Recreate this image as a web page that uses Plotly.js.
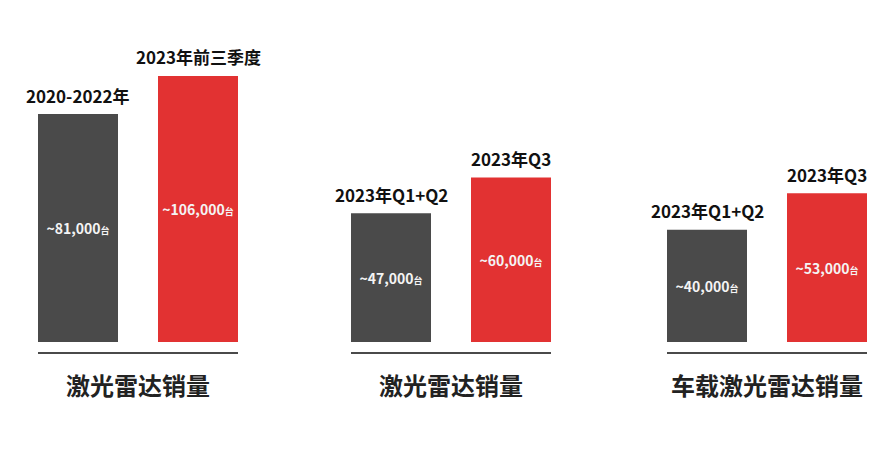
<!DOCTYPE html>
<html><head><meta charset="utf-8">
<script src="https://cdn.plot.ly/plotly-3.0.1.min.js"></script>
<style>body{margin:0;background:#fff}#c{width:896px;height:450px}</style>
</head><body><div id="c"></div>
<script>
// Data
const groupTitles = ['激光雷达销量', '激光雷达销量', '车载激光雷达销量'];
const g1Labels = ['2020-2022年', '2023年前三季度'];
const g1Values = [81000, 106000];
const g2Labels = ['2023年Q1+Q2', '2023年Q3'];
const g2Values = [47000, 60000];
const g3Labels = ['2023年Q1+Q2', '2023年Q3'];
const g3Values = [40000, 53000];
const unit = '台';

// Presentation
const colors = ['#4a4a4a', '#e23232'];
const font = '"Noto Sans CJK SC", "Noto Sans", sans-serif';
const groups = [
  {labels: g1Labels, values: g1Values, dom: [38/896, 238/896], ytype: 'log', range: [4.2085, 5.1357]},
  {labels: g2Labels, values: g2Values, dom: [351/896, 551/896], ytype: 'linear', range: [0, 110219]},
  {labels: g3Labels, values: g3Values, dom: [667/896, 867/896], ytype: 'linear', range: [0, 107627]}
];
const fmt = v => '~' + v.toLocaleString('en-US') + '<span style="font-size:9px">' + unit + '</span>';

const traces = [];
const annotations = [];
const layout = {
  width: 896, height: 450,
  margin: {l: 0, r: 0, t: 0, b: 0},
  paper_bgcolor: '#fff', plot_bgcolor: 'rgba(0,0,0,0)',
  showlegend: false, bargap: 1/3,
  font: {family: font},
  hovermode: false
};
groups.forEach((g, i) => {
  const n = i === 0 ? '' : String(i + 1);
  const xa = 'x' + n, ya = 'y' + n;
  traces.push({
    type: 'bar', x: g.labels, y: g.values,
    xaxis: xa, yaxis: ya,
    marker: {color: colors},
    text: g.values.map(fmt),
    textposition: 'inside', insidetextanchor: 'middle', textangle: 0,
    textfont: {family: font, size: 14, color: '#f4f4f4', weight: 'bold'},
    cliponaxis: false
  });
  layout['xaxis' + n] = {
    domain: g.dom, anchor: 'free', position: 97/450, type: 'category', range: [-1/3, 4/3],
    showline: true, linecolor: '#4a4a4a', linewidth: 2,
    showticklabels: false, ticks: '', showgrid: false, zeroline: false, fixedrange: true
  };
  layout['yaxis' + n] = {
    domain: [108/450, 410/450], anchor: xa, type: g.ytype, range: g.range,
    visible: false, showgrid: false, zeroline: false, fixedrange: true
  };
  g.labels.forEach((lab, j) => {
    annotations.push({
      xref: xa, yref: ya, x: lab, y: g.ytype === 'log' ? Math.log10(g.values[j]) : g.values[j],
      text: lab, showarrow: false, yanchor: 'middle', yshift: 19,
      font: {family: font, size: 17, color: '#111', weight: 'bold'}
    });
  });
  annotations.push({
    xref: xa + ' domain', yref: 'paper', x: 0.5, y: 1 - 384/450,
    xanchor: 'center', yanchor: 'middle',
    text: groupTitles[i], showarrow: false,
    font: {family: font, size: 24, color: '#222', weight: 'bold'}
  });
});
layout.annotations = annotations;
Plotly.newPlot('c', traces, layout, {displayModeBar: false, staticPlot: true});
</script>
</body></html>
